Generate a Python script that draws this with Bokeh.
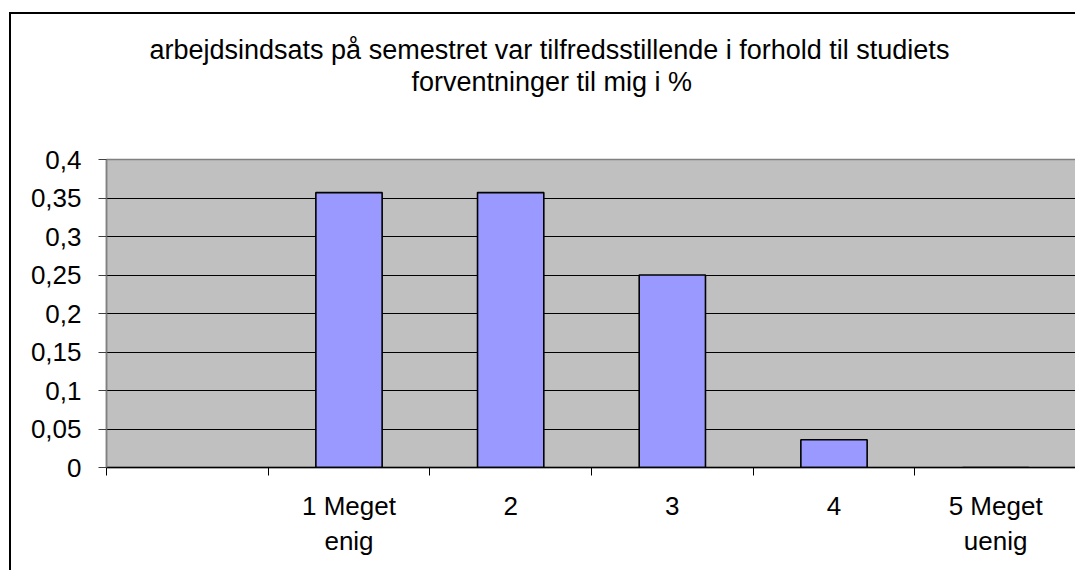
import math
from bokeh.plotting import figure
from bokeh.models import Range1d, FixedTicker, Title, ColumnDataSource
from bokeh.embed import file_html
from bokeh.resources import INLINE

# ---- data ----
title_lines = ["arbejdsindsats på semestret var tilfredsstillende i forhold til studiets",
               "forventninger til mig i %"]
categories = ["", "1 Meget\nenig", "2", "3", "4", "5 Meget\nuenig"]
values = [math.nan, 0.357, 0.357, 0.25, 0.036, 0.0]
y_ticks = [0, 0.05, 0.1, 0.15, 0.2, 0.25, 0.3, 0.35, 0.4]
y_tick_labels = ["0", "0,05", "0,1", "0,15", "0,2", "0,25", "0,3", "0,35", "0,4"]

FONT = "Liberation Sans"

n = len(categories)
x_centers = [i + 0.5 for i in range(n)]
x_bounds = [float(i) for i in range(n + 1)]

p = figure(width=1066, height=558, output_backend="svg", toolbar_location=None,
           title=None,
           x_range=Range1d(0, n), y_range=Range1d(0, 0.4),
           min_border_left=95, min_border_right=1, min_border_top=145, min_border_bottom=105)
p.margin = (12, 0, 0, 9)
p.styles = {"border-left": "2px solid black", "border-top": "2px solid black"}
p.background_fill_color = "#C0C0C0"
p.border_fill_color = "white"
p.outline_line_color = "#808080"
p.outline_line_width = 1.5

src = ColumnDataSource(dict(x=x_centers, top=values))
p.vbar(x="x", top="top", bottom=0, width=0.41, source=src,
       fill_color="#9999FF", line_color="black", line_width=1.6)

# y axis
p.yaxis.ticker = FixedTicker(ticks=y_ticks)
p.yaxis.major_label_overrides = {t: l for t, l in zip(y_ticks, y_tick_labels)}
p.yaxis.major_label_text_font = FONT
p.yaxis.major_label_text_font_size = "26px"
p.yaxis.major_label_text_color = "black"
p.yaxis.major_tick_out = 8
p.yaxis.major_tick_in = 0
p.yaxis.minor_tick_out = 0
p.yaxis.minor_tick_in = 0
p.yaxis.major_label_standoff = 17
p.yaxis.axis_line_color = "#808080"
p.yaxis.axis_line_width = 1.5
p.yaxis.major_tick_line_color = "#404040"

# x axis: labels at centers, ticks at category boundaries
p.xaxis.ticker = FixedTicker(ticks=x_centers, minor_ticks=x_bounds)
p.xaxis.major_label_overrides = {c: l for c, l in zip(x_centers, categories)}
p.xaxis.major_label_text_font = FONT
p.xaxis.major_label_text_font_size = "26px"
p.xaxis.major_label_text_color = "black"
p.xaxis.major_label_text_line_height = 1.18
p.xaxis.major_tick_out = 0
p.xaxis.major_tick_in = 0
p.xaxis.minor_tick_out = 8
p.xaxis.minor_tick_in = 0
p.xaxis.minor_tick_line_color = "black"
p.xaxis.major_label_standoff = 15
p.xaxis.axis_line_color = "black"
p.xaxis.axis_line_width = 1.5

p.xgrid.visible = False
p.ygrid.ticker = FixedTicker(ticks=y_ticks)
p.ygrid.grid_line_color = "black"
p.ygrid.grid_line_width = 1

# title: spacer nearest the frame, then line 2, then line 1
p.add_layout(Title(text=" ", text_font_size="1px", standoff=60), "above")
p.add_layout(Title(text=title_lines[1], align="left", offset=305, standoff=0,
                   text_font=FONT, text_font_size="27px", text_font_style="normal",
                   text_color="black"), "above")
p.add_layout(Title(text=title_lines[0], align="left", offset=43, standoff=0,
                   text_font=FONT, text_font_size="27px", text_font_style="normal",
                   text_color="black"), "above")

open("out.html", "w").write(file_html(p, INLINE))
